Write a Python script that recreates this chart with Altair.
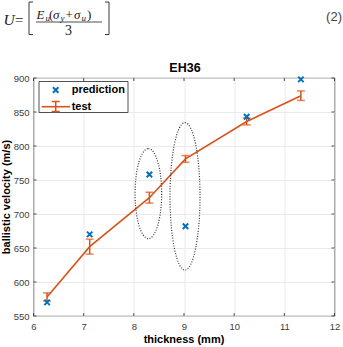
import altair as alt
import pandas as pd

# Measured ballistic limit velocities of EH36 plates (mean and half-range)
thickness = [6.27, 7.12, 8.31, 9.03, 10.25, 11.33]
test_velocity = [578, 652, 724, 781, 836, 874]
test_error = [6, 11, 8, 5, 5, 7]
# Velocities predicted from the energy criterion U
predicted_velocity = [570, 670, 758, 682, 843, 898]

x_ticks = [6, 7, 8, 9, 10, 11, 12]
y_ticks = [550, 600, 650, 700, 750, 800, 850, 900]

# Centres of the dotted outlines around the two outlying predictions
outlier_thickness = [8.29, 9.02]
outlier_velocity = [730, 726]

W, H = 301, 238
BLUE = "#0072BD"
ORANGE = "#D95319"
INK = "#262626"
GRID = "#e4e4e4"
SANS = "Liberation Sans"
SERIF = "Liberation Serif"

test = pd.DataFrame({
    "thickness": thickness,
    "velocity": test_velocity,
    "lo": [v - e for v, e in zip(test_velocity, test_error)],
    "hi": [v + e for v, e in zip(test_velocity, test_error)],
})
pred = pd.DataFrame({"thickness": thickness, "velocity": predicted_velocity})
xt = pd.DataFrame({"thickness": x_ticks})
yt = pd.DataFrame({"velocity": y_ticks})
one = pd.DataFrame({"k": [0]})

xs = alt.Scale(domain=[6, 12], nice=False, zero=False)
ys = alt.Scale(domain=[550, 900], nice=False, zero=False)

x_axis = alt.Axis(values=x_ticks, format="d", grid=True, gridColor=GRID, gridWidth=0.8,
                  ticks=False, domain=False, labelFont=SANS, labelFontSize=9.5,
                  labelColor="#404040", labelPadding=5, labelOverlap=False,
                  labelFlush=False, title=None)
y_axis = alt.Axis(values=y_ticks, format="d", grid=True, gridColor=GRID, gridWidth=0.8,
                  ticks=False, domain=False, labelFont=SANS, labelFontSize=9.5,
                  labelColor="#404040", labelPadding=4.5, labelOverlap=False,
                  labelFlush=False, title=None)

X_MARK = "M-1,-1L1,1M-1,1L1,-1"


def X(field):
    return alt.X(field, scale=xs, axis=x_axis, title=None)


def Y(field):
    return alt.Y(field, scale=ys, axis=y_axis, title=None)


def ellipse_path(ratio):
    k = 0.5523
    a = ratio
    ka = k * a
    return (f"M0,-1C{ka:.4f},-1 {a:.4f},{-k} {a:.4f},0"
            f"C{a:.4f},{k} {ka:.4f},1 0,1"
            f"C{-ka:.4f},1 {-a:.4f},{k} {-a:.4f},0"
            f"C{-a:.4f},{-k} {-ka:.4f},-1 0,-1Z")


def text(s, x, y, size=12, font=SANS, weight="normal", style="normal",
         align="left", baseline="alphabetic", color="black", angle=0):
    return alt.Chart(one).mark_text(
        text=s, font=font, fontSize=size, fontWeight=weight, fontStyle=style,
        align=align, baseline=baseline, color=color, angle=angle,
    ).encode(x=alt.value(x), y=alt.value(y))


def seg(x1, y1, x2, y2, color=INK, width=0.8):
    return alt.Chart(one).mark_rule(color=color, strokeWidth=width).encode(
        x=alt.value(x1), x2=alt.value(x2), y=alt.value(y1), y2=alt.value(y2))


# test curve
line = alt.Chart(test).mark_line(color=ORANGE, strokeWidth=1.6).encode(
    x=X("thickness:Q"), y=Y("velocity:Q"))
bars = alt.Chart(test).mark_rule(color=ORANGE, strokeWidth=1.5).encode(
    x=X("thickness:Q"), y=Y("lo:Q"), y2="hi:Q")
cap_lo = alt.Chart(test).mark_tick(color=ORANGE, orient="horizontal", size=8, thickness=1.5).encode(
    x=X("thickness:Q"), y=Y("lo:Q"))
cap_hi = alt.Chart(test).mark_tick(color=ORANGE, orient="horizontal", size=8, thickness=1.5).encode(
    x=X("thickness:Q"), y=Y("hi:Q"))

points = alt.Chart(pred).mark_point(shape=X_MARK, size=30, strokeWidth=2, color=BLUE,
                                    filled=False, opacity=1).encode(
    x=X("thickness:Q"), y=Y("velocity:Q"))

# dotted outlines around the outliers
ell_specs = [(13.3, 45.0), (15.0, 73.7)]
ellipses = []
for i, (rx, ry) in enumerate(ell_specs):
    d = pd.DataFrame({"thickness": [outlier_thickness[i]], "velocity": [outlier_velocity[i]]})
    ellipses.append(alt.Chart(d).mark_point(
        shape=ellipse_path(rx / ry), size=(2 * ry) ** 2, filled=False, color="#333333",
        strokeWidth=1.2, strokeDash=[1, 1.6], opacity=1,
    ).encode(x=X("thickness:Q"), y=Y("velocity:Q")))

# inward ticks on all four sides of the box
tick_b = alt.Chart(xt).mark_rule(color=INK, strokeWidth=0.8).encode(
    x=X("thickness:Q"), y=alt.value(H), y2=alt.value(H - 3))
tick_t = alt.Chart(xt).mark_rule(color=INK, strokeWidth=0.8).encode(
    x=X("thickness:Q"), y=alt.value(0), y2=alt.value(3))
tick_l = alt.Chart(yt).mark_rule(color=INK, strokeWidth=0.8).encode(
    y=Y("velocity:Q"), x=alt.value(0), x2=alt.value(3))
tick_r = alt.Chart(yt).mark_rule(color=INK, strokeWidth=0.8).encode(
    y=Y("velocity:Q"), x=alt.value(W), x2=alt.value(W - 3))

# legend
legend_box = alt.Chart(one).mark_rect(fill="white", stroke=INK, strokeWidth=0.8).encode(
    x=alt.value(5.5), x2=alt.value(94.5), y=alt.value(3.5), y2=alt.value(34.5))
legend_x = alt.Chart(one).mark_point(shape=X_MARK, size=30, strokeWidth=2, color=BLUE,
                                     filled=False, opacity=1).encode(
    x=alt.value(22.2), y=alt.value(12))
legend = [
    legend_box, legend_x,
    text("prediction", 38.2, 12, size=11, weight="bold", baseline="middle"),
    seg(8.2, 28.7, 36.5, 28.7, ORANGE, 1.6),
    seg(22.2, 23.5, 22.2, 33.5, ORANGE, 1.5),
    seg(18.2, 23.5, 26.2, 23.5, ORANGE, 1.5),
    seg(18.2, 33.5, 26.2, 33.5, ORANGE, 1.5),
    text("test", 38.2, 29, size=11, weight="bold", baseline="middle"),
]

# titles
titles = [
    text("EH36", 151.5, -6.5, size=12.5, weight="bold", align="center"),
    text("thickness (mm)", 150.5, 265, size=11, weight="bold", align="center"),
    text("ballistic velocity (m/s)", -24, H / 2, size=11, weight="bold",
         align="center", angle=270),
]

# equation (2) above the chart
ox, oy = 33.5, 78
EQ = "#222222"
eq = [
    text("U", 3.5 - ox, 25 - oy, size=15.5, font=SERIF, style="italic", color=EQ),
    text("=", 15 - ox, 24.5 - oy, size=15, font=SERIF, color=EQ),
    seg(29 - ox, 2 - oy, 29 - ox, 34.5 - oy, EQ, 0.9),
    seg(29 - ox, 2 - oy, 33 - ox, 2 - oy, EQ, 0.9),
    seg(29 - ox, 34.5 - oy, 33 - ox, 34.5 - oy, EQ, 0.9),
    seg(109 - ox, 2 - oy, 109 - ox, 34.5 - oy, EQ, 0.9),
    seg(105 - ox, 2 - oy, 109 - ox, 2 - oy, EQ, 0.9),
    seg(105 - ox, 34.5 - oy, 109 - ox, 34.5 - oy, EQ, 0.9),
    text("E", 36.5 - ox, 18.5 - oy, size=13, font=SERIF, style="italic", color=EQ),
    text("u", 45.5 - ox, 21 - oy, size=9, font=SERIF, style="italic", color=EQ),
    text("(", 49 - ox, 18.5 - oy, size=13, font=SERIF, color=EQ),
    text("σ", 53 - ox, 18.5 - oy, size=13, font=SERIF, style="italic", color=EQ),
    text("y", 60.5 - ox, 21 - oy, size=9, font=SERIF, style="italic", color=EQ),
    text("+", 65.5 - ox, 18.5 - oy, size=13, font=SERIF, color=EQ),
    text("σ", 74 - ox, 18.5 - oy, size=13, font=SERIF, style="italic", color=EQ),
    text("u", 81.5 - ox, 21 - oy, size=9, font=SERIF, style="italic", color=EQ),
    text(")", 87 - ox, 18.5 - oy, size=13, font=SERIF, color=EQ),
    seg(36 - ox, 22 - oy, 102 - ox, 22 - oy, EQ, 0.8),
    text("3", 68.5 - ox, 34.5 - oy, size=14, font=SERIF, align="center", color=EQ),
    text("(2)", 342 - ox, 20.5 - oy, size=13, font=SANS, align="right", color="#444444"),
]

chart = alt.layer(
    line, *ellipses, bars, cap_lo, cap_hi, points,
    tick_b, tick_t, tick_l, tick_r,
    *legend, *titles, *eq,
).properties(
    width=W, height=H,
    padding={"left": 33.5, "top": 78, "right": 8.5, "bottom": 31},
    autosize=alt.AutoSizeParams(type="none"),
    background="white",
).configure_view(
    stroke=INK, strokeWidth=0.8
).configure_axis(
    labelOverlap=False
)

chart.save("out.html", embed_options={"renderer": "svg", "actions": False})
